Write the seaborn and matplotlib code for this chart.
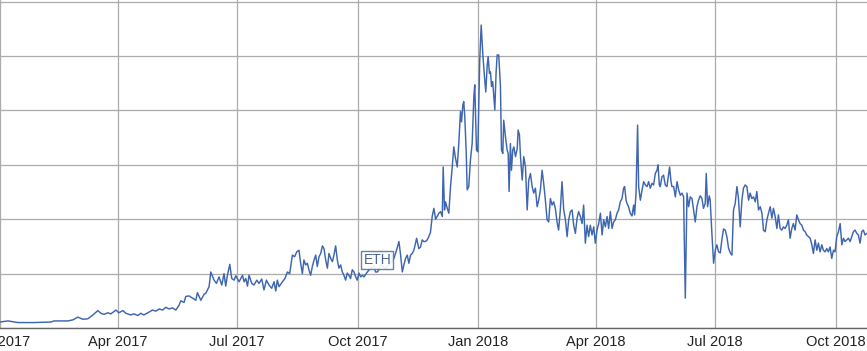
import matplotlib
matplotlib.use("Agg")
import matplotlib.pyplot as plt
import matplotlib.dates as mdates
import numpy as np
import pandas as pd
import seaborn as sns

# ---- data (day offset from 2017-01-01, value) ----
start_date = "2017-01-01"
days = [
    0.0, 6.1, 13.7, 25.9, 38.9, 41.2, 51.9, 55.7, 59.5, 63.3,
    67.1, 70.9, 74.7, 77.0, 79.3, 82.4, 84.6, 86.9, 88.5, 90.7,
    93.8, 96.1, 99.9, 102.2, 105.2, 107.5, 109.8, 112.9, 116.4, 119.0,
    121.5, 124.1, 126.6, 129.1, 131.7, 134.2, 136.7, 138.0, 140.5, 141.8,
    144.3, 146.9, 149.5, 150.7, 153.3, 155.8, 157.1, 159.6, 160.9, 163.4,
    165.2, 167.2, 169.3, 171.0, 172.3, 173.6, 175.4, 176.9, 178.7, 180.0,
    182.5, 185.1, 186.3, 187.6, 188.9, 190.1, 192.2, 193.9, 196.0, 197.7,
    199.8, 201.5, 203.4, 205.3, 207.4, 209.2, 210.5, 211.7, 213.0, 215.6,
    217.5, 219.4, 221.1, 221.9, 223.2, 224.9, 226.5, 228.2, 229.5, 230.8,
    232.0, 233.3, 234.6, 235.8, 237.1, 238.4, 239.7, 241.0, 242.2, 243.5,
    244.8, 246.1, 247.3, 248.6, 249.9, 251.1, 252.4, 253.7, 254.9, 256.2,
    257.5, 258.7, 260.0, 261.3, 262.5, 263.8, 265.1, 266.3, 267.6, 268.9,
    270.2, 271.5, 272.7, 274.0, 275.3, 276.6, 277.8, 280.4, 282.9, 285.4,
    286.7, 288.0, 289.2, 290.5, 294.3, 298.1, 300.7, 302.7, 304.5, 305.8,
    307.1, 308.3, 309.6, 310.9, 312.1, 313.4, 314.7, 315.9, 317.2, 318.0,
    319.7, 321.0, 322.3, 323.5, 324.8, 326.1, 327.3, 328.6, 329.9, 331.2,
    332.5, 333.7, 335.0, 336.3, 337.6, 338.3, 339.3, 340.1, 341.4, 342.6,
    343.9, 345.2, 346.4, 347.7, 349.0, 350.2, 351.5, 352.3, 353.3, 354.0,
    354.8, 355.9, 356.6, 357.8, 359.1, 360.4, 361.7, 362.4, 363.0, 363.7,
    364.7, 365.5, 366.2, 367.3, 368.5, 369.8, 370.8, 371.9, 372.6, 373.6,
    374.4, 375.2, 376.1, 376.9, 377.7, 378.7, 379.5, 380.7, 382.0, 382.8,
    383.8, 384.5, 385.8, 387.1, 387.9, 388.6, 389.6, 390.4, 391.4, 392.2,
    393.5, 394.8, 395.5, 396.5, 397.3, 398.6, 399.8, 401.1, 402.4, 403.6,
    404.9, 406.2, 407.4, 408.7, 410.0, 411.2, 412.5, 413.8, 415.0, 416.3,
    417.6, 418.8, 420.1, 421.4, 422.6, 423.9, 425.2, 426.4, 427.7, 429.0,
    430.3, 431.6, 432.9, 434.1, 435.4, 436.7, 437.9, 439.2, 440.5, 441.7,
    443.0, 444.3, 445.5, 446.8, 448.1, 449.3, 450.6, 451.9, 453.2, 454.4,
    455.7, 457.0, 458.3, 459.6, 460.8, 462.1, 463.4, 464.6, 465.9, 467.2,
    468.4, 469.7, 471.0, 472.2, 473.5, 474.8, 476.0, 476.8, 477.9, 478.6,
    479.8, 481.1, 482.4, 483.7, 484.4, 485.5, 486.7, 487.5, 488.8, 490.1,
    491.3, 492.6, 493.9, 495.1, 496.4, 497.7, 498.9, 500.2, 501.5, 502.3,
    503.3, 504.0, 505.3, 506.5, 507.8, 509.1, 510.3, 511.1, 512.2, 512.9,
    514.2, 515.5, 516.8, 518.0, 519.3, 520.6, 521.8, 523.1, 524.4, 525.6,
    526.9, 528.2, 529.4, 530.7, 532.0, 533.2, 534.5, 535.8, 537.0, 538.3,
    539.1, 540.1, 541.4, 542.1, 543.4, 544.7, 546.0, 547.2, 548.5, 549.8,
    551.0, 552.3, 553.6, 554.9, 556.1, 557.4, 558.7, 559.9, 561.2, 562.5,
    563.7, 565.0, 566.3, 567.5, 568.8, 570.1, 571.4, 572.6, 573.9, 575.2,
    576.5, 577.7, 579.0, 580.3, 581.6, 582.8, 584.1, 585.4, 586.6, 587.9,
    589.2, 590.4, 591.7, 593.0, 594.2, 595.5, 596.8, 598.0, 599.3, 600.6,
    601.8, 603.1, 604.4, 605.6, 606.9, 608.2, 609.5, 610.7, 612.0, 613.3,
    614.6, 615.8, 617.1, 618.4, 619.7, 620.9, 622.2, 623.5, 624.7, 626.0,
    627.3, 628.5, 629.8, 631.1, 632.3, 633.6, 634.9, 636.2, 637.4, 638.7,
    640.0, 641.3, 642.6, 643.8, 645.1, 646.4, 647.6, 648.9, 650.2, 651.4,
    652.7, 654.0, 655.2, 656.5, 657.8, 659.0, 660.3, 661.6, 662.5,
]
values = [
    11, 13, 10, 10, 11, 13, 13, 15, 20, 16,
    17, 24, 32, 27, 25, 28, 26, 30, 33, 28,
    32, 27, 24, 26, 23, 27, 24, 28, 33, 31,
    35, 33, 38, 35, 37, 33, 42, 50, 47, 58,
    59, 55, 51, 65, 51, 62, 64, 76, 103, 88,
    82, 94, 79, 100, 77, 97, 117, 91, 88, 96,
    85, 97, 85, 91, 77, 97, 82, 79, 88, 82,
    90, 70, 88, 79, 73, 85, 68, 88, 76, 85,
    91, 103, 100, 113, 134, 131, 140, 143, 119, 100,
    125, 116, 119, 107, 97, 113, 125, 134, 113, 131,
    137, 151, 146, 125, 110, 137, 128, 122, 134, 151,
    125, 110, 116, 103, 97, 88, 101, 97, 91, 107,
    103, 94, 88, 101, 94, 97, 94, 103, 110, 113,
    103, 103, 107, 116, 110, 119, 128, 143, 159, 134,
    103, 116, 128, 134, 119, 134, 137, 143, 156, 165,
    146, 149, 162, 159, 159, 162, 168, 176, 205, 220,
    200, 205, 211, 214, 205, 296, 217, 232, 220, 211,
    260, 296, 333, 312, 296, 339, 398, 379, 410, 416,
    388, 321, 254, 260, 309, 339, 425, 447, 395, 327,
    324, 419, 493, 557, 505, 462, 434, 483, 499, 468,
    471, 444, 453, 428, 401, 471, 502, 502, 444, 327,
    321, 382, 352, 327, 321, 251, 339, 290, 327, 333,
    315, 330, 364, 355, 315, 272, 315, 296, 217, 272,
    284, 260, 248, 257, 223, 235, 254, 290, 266, 235,
    199, 195, 238, 226, 232, 220, 195, 180, 217, 269,
    217, 199, 168, 199, 214, 217, 189, 174, 202, 214,
    205, 192, 226, 156, 189, 168, 189, 171, 186, 156,
    180, 192, 211, 171, 199, 186, 205, 183, 214, 183,
    195, 199, 211, 217, 232, 238, 257, 260, 235, 229,
    223, 211, 206, 226, 208, 248, 373, 260, 235, 254,
    269, 263, 260, 269, 257, 266, 263, 284, 290, 300,
    263, 260, 278, 281, 263, 260, 281, 296, 269, 260,
    260, 241, 269, 254, 244, 248, 241, 55, 248, 223,
    241, 238, 217, 195, 223, 235, 243, 238, 220, 229,
    284, 223, 243, 235, 174, 119, 143, 153, 140, 138,
    162, 182, 180, 167, 147, 138, 134, 217, 229, 260,
    238, 186, 235, 257, 263, 260, 235, 248, 238, 241,
    232, 251, 217, 223, 211, 180, 177, 199, 211, 223,
    202, 220, 205, 183, 208, 183, 180, 186, 183, 189,
    199, 165, 183, 192, 180, 208, 199, 192, 189, 180,
    177, 171, 168, 165, 153, 137, 162, 143, 156, 140,
    153, 143, 140, 146, 140, 149, 128, 143, 140, 168,
    177, 192, 153, 165, 159, 162, 165, 159, 168, 177,
    180, 174, 171, 156, 177, 180, 171, 174, 172,
]
series_label = "ETH"
tick_months = [1, 4, 7, 10]
grid_values = [0, 100, 200, 300, 400, 500, 600]

assert len(days) == len(values)

t0 = pd.Timestamp(start_date)
df = pd.DataFrame({
    "date": t0 + pd.to_timedelta(days, unit="D"),
    "value": values,
})

sns.set_style("white")
plt.rcParams["font.family"] = ["Liberation Sans", "DejaVu Sans"]

fig = plt.figure(figsize=(8.67, 3.51), dpi=100)
ax = fig.add_axes([0.0, 23 / 351, 1.0, 328 / 351])

sns.lineplot(data=df, x="date", y="value", ax=ax, color="#3e66b0",
             linewidth=1.05, estimator=None, sort=True)

ax.set_xlim(t0, t0 + pd.Timedelta(days=661.8))
ax.set_ylim(0, 603)

ax.xaxis.set_major_locator(mdates.MonthLocator(bymonth=tick_months))
ax.xaxis.set_major_formatter(mdates.DateFormatter("%b %Y"))
ax.set_yticks(grid_values)
ax.set_yticklabels([])
ax.set_xlabel("")
ax.set_ylabel("")

ax.grid(True, which="major", axis="both", color="#ababab", linewidth=0.9)
ax.set_axisbelow(True)
ax.tick_params(axis="both", length=0)
ax.tick_params(axis="x", labelsize=10.5, labelcolor="#222222", pad=5)

for side in ["top", "left", "right"]:
    ax.spines[side].set_visible(False)
ax.spines["bottom"].set_color("#666666")
ax.spines["bottom"].set_linewidth(1.0)

ax.text(t0 + pd.Timedelta(days=288.0), 125, series_label,
        ha="center", va="center", fontsize=10, color="#4a6894",
        bbox=dict(boxstyle="square,pad=0.15", facecolor="white",
                  edgecolor="#5a7498", linewidth=1.0, alpha=0.9))

fig.savefig("out.png", dpi=100)
